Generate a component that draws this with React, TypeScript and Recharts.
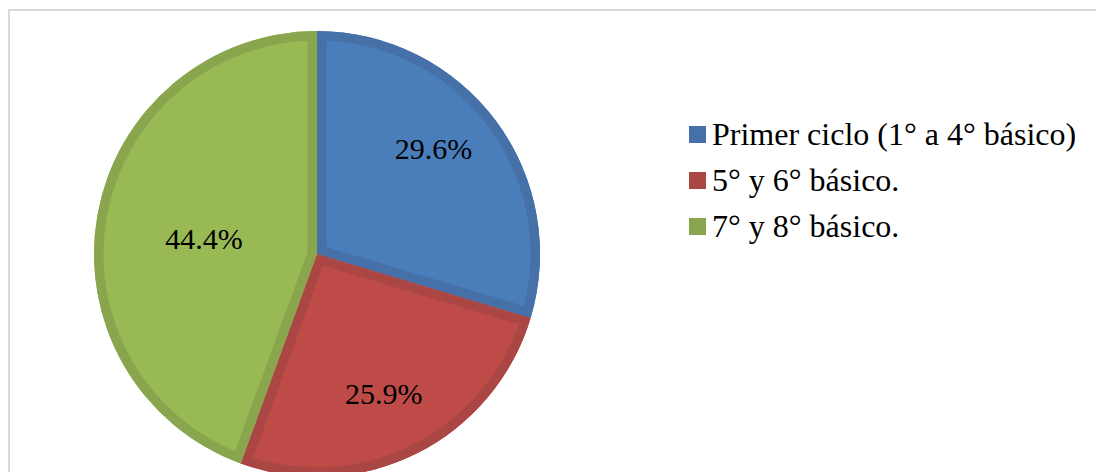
import { PieChart, Pie, Cell, Legend, Sector } from 'recharts';

const categories = ['Primer ciclo (1° a 4° básico)', '5° y 6° básico.', '7° y 8° básico.'];
const shares = [29.6, 25.9, 44.4];

const fills = ['#4A7EBB', '#BE4B48', '#98B954'];
const edges = ['#4571A8', '#AA4643', '#89A54E'];

// label placement tweaks (Excel "best fit" spots), ratio of radius + angle nudge
const labelRadius = [0.7, 0.7, 0.51];
const labelNudge = [5, -1.4, 3];

const data = categories.map((name, i) => ({ name, value: shares[i] }));

const RAD = Math.PI / 180;
const FONT = '"Liberation Serif", "Times New Roman", serif';

function SliceLabel(props: any) {
  const { cx, cy, midAngle, innerRadius, outerRadius, startAngle, endAngle, index, value } = props;
  const r = outerRadius * labelRadius[index];
  const a = (midAngle + labelNudge[index]) * RAD;
  const x = cx + r * Math.cos(-a);
  const y = cy + r * Math.sin(-a);
  const clipId = `slice-clip-${index}`;
  return (
    <g>
      {/* inset darker edge, like Excel's shape outline */}
      <defs>
        <clipPath id={clipId}>
          <Sector cx={cx} cy={cy} innerRadius={innerRadius} outerRadius={outerRadius} startAngle={startAngle} endAngle={endAngle} />
        </clipPath>
      </defs>
      <Sector
        cx={cx}
        cy={cy}
        innerRadius={innerRadius}
        outerRadius={outerRadius}
        startAngle={startAngle}
        endAngle={endAngle}
        fill="none"
        stroke={edges[index]}
        strokeWidth={19}
        clipPath={`url(#${clipId})`}
      />
      <text x={x} y={y + 9} textAnchor="middle" fill="#000" style={{ fontFamily: FONT, fontSize: 30 }}>
        {`${value.toFixed(1)}%`}
      </text>
    </g>
  );
}

function LegendList(props: any) {
  const items = [...(props.payload || [])].sort(
    (p: any, q: any) => categories.indexOf(p.value) - categories.indexOf(q.value)
  );
  return (
    <ul style={{ listStyle: 'none', margin: 0, padding: 0, fontFamily: FONT, fontSize: 32, color: '#000' }}>
      {items.map((entry: any) => {
        const i = categories.indexOf(entry.value);
        return (
          <li key={entry.value} style={{ display: 'flex', alignItems: 'center', height: 46, whiteSpace: 'nowrap' }}>
            <span style={{ display: 'inline-block', width: 17, height: 17, background: edges[i], marginRight: 6 }} />
            <span>{entry.value}</span>
          </li>
        );
      })}
    </ul>
  );
}

export default function App() {
  return (
    <div style={{ position: 'fixed', left: 8, top: 8, width: 1088, height: 464, overflow: 'hidden', background: '#fff' }}>
      <div style={{ position: 'absolute', left: 0, top: 1, width: 1200, height: 600, border: '2px solid #D9D9D9', boxSizing: 'border-box' }} />
      <div style={{ position: 'absolute', left: 0, top: 0 }}>
        <PieChart width={1088} height={480} margin={{ top: 0, right: 0, bottom: 0, left: 0 }}>
          <Pie
            data={data}
            dataKey="value"
            nameKey="name"
            cx={309}
            cy={246}
            outerRadius={223}
            startAngle={90}
            endAngle={-270}
            stroke="none"
            label={SliceLabel}
            labelLine={false}
            isAnimationActive={false}
          >
            {data.map((d, i) => (
              <Cell key={d.name} fill={fills[i]} />
            ))}
          </Pie>
          <Legend
            layout="vertical"
            verticalAlign="top"
            align="right"
            wrapperStyle={{ left: 681, top: 103, right: 'auto', width: 420 }}
            content={LegendList}
          />
        </PieChart>
      </div>
    </div>
  );
}
